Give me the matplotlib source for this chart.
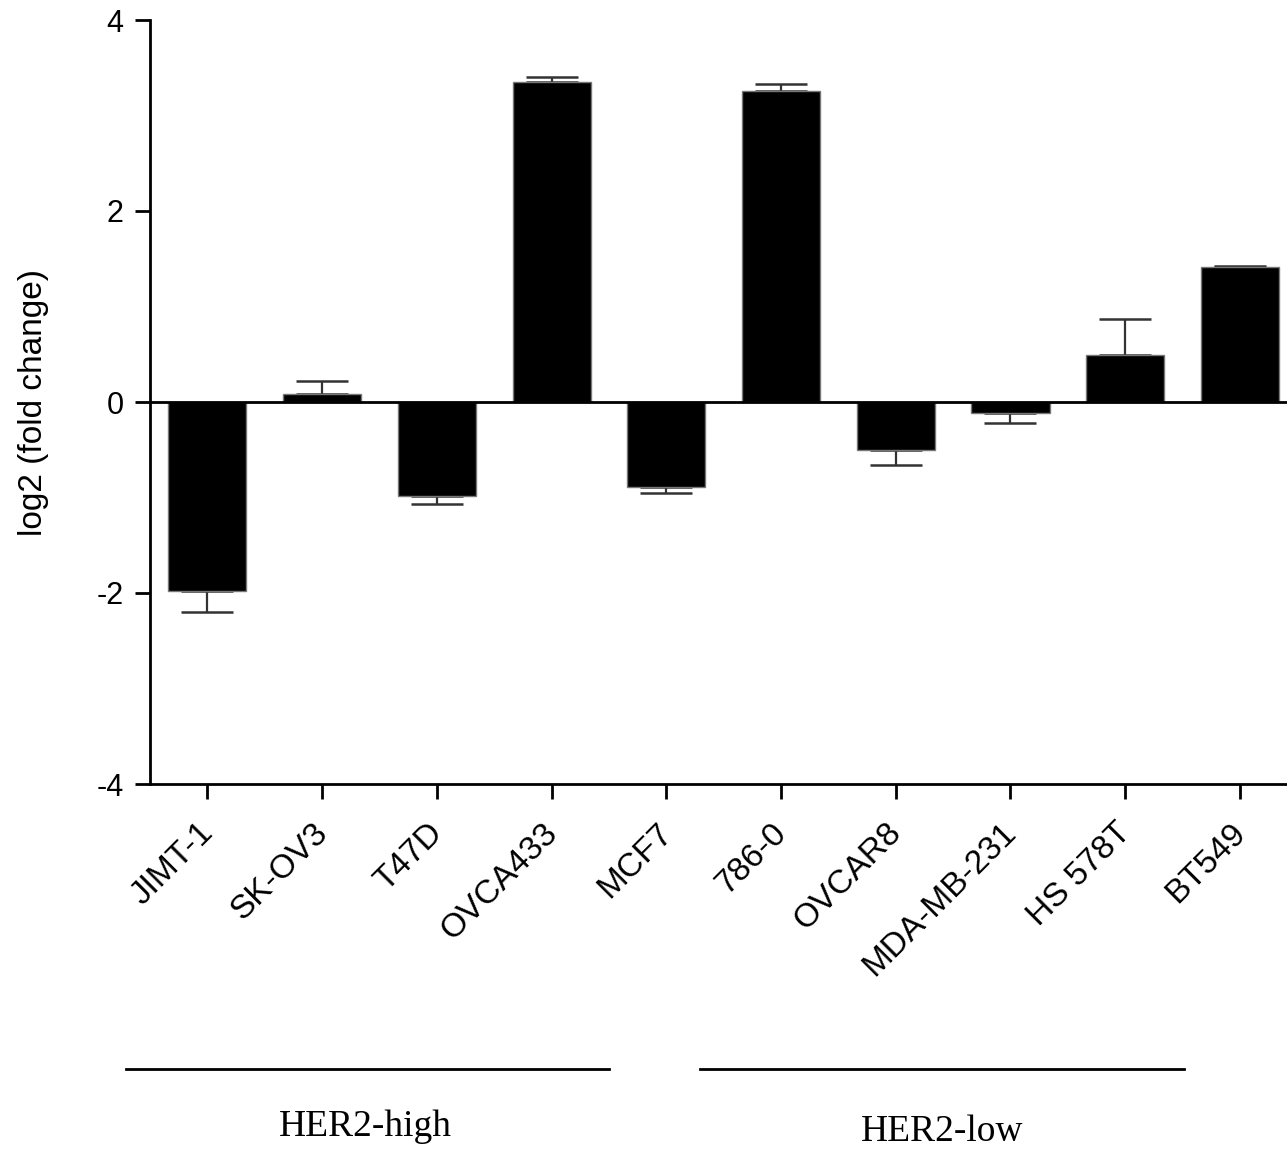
import matplotlib
matplotlib.use("Agg")
import matplotlib.pyplot as plt
import matplotlib.transforms as mtransforms
import numpy as np

cell_lines = ["JIMT-1", "SK-OV3", "T47D", "OVCA433", "MCF7",
              "786-0", "OVCAR8", "MDA-MB-231", "HS 578T", "BT549"]
log2_fc = [-1.975, 0.08, -0.98, 3.35, -0.89, 3.26, -0.50, -0.12, 0.49, 1.41]
err = [0.225, 0.14, 0.09, 0.05, 0.06, 0.07, 0.16, 0.10, 0.38, 0.01]
groups = ["HER2-high", "HER2-low"]

plt.rcParams['font.family'] = ['Liberation Sans', 'DejaVu Sans']

fig = plt.figure(figsize=(12.87, 11.5), dpi=100)
ax = fig.add_axes([150/1287, 1 - 784/1150, 1 - 150/1287, (784 - 20)/1150])

x = np.arange(len(cell_lines))
ax.bar(x, log2_fc, width=0.68, color='black', edgecolor='#777777', linewidth=1.0, zorder=3)

lower = [e if v < 0 else 0 for v, e in zip(log2_fc, err)]
upper = [e if v >= 0 else 0 for v, e in zip(log2_fc, err)]
ax.errorbar(x, log2_fc, yerr=[lower, upper], fmt='none', ecolor='#333333',
            elinewidth=1.6, capsize=19, capthick=1.8, zorder=2)

ax.axhline(0, color='black', linewidth=2, zorder=4)

ax.set_xlim(-0.5, 9.41)
ax.set_ylim(-4, 4)
ax.set_yticks([-4, -2, 0, 2, 4])
ax.set_yticklabels(["-4", "-2", "0", "2", "4"], fontsize=22)
ax.set_xticks(x)
ax.set_xticklabels(cell_lines, rotation=45, ha='right', rotation_mode='anchor', fontsize=24)
ax.tick_params(axis='both', direction='out', length=11, width=2)
ax.tick_params(axis='x', pad=13)
ax.tick_params(axis='y', pad=8)

offset = mtransforms.ScaledTranslation(-10/100, 0, fig.dpi_scale_trans)
for lbl in ax.get_xticklabels():
    lbl.set_transform(lbl.get_transform() + offset)

for s in ['top', 'right']:
    ax.spines[s].set_visible(False)
for s in ['left', 'bottom']:
    ax.spines[s].set_linewidth(2)

ax.set_ylabel("log2 (fold change)", fontsize=24, labelpad=34)

# group lines and labels
line_y = 1 - 1069/1150
fig.add_artist(plt.Line2D([126/1287, 609/1287], [line_y, line_y], color='black', linewidth=2))
fig.add_artist(plt.Line2D([700/1287, 1184/1287], [line_y, line_y], color='black', linewidth=2))
fig.text(365/1287, 1 - 1127/1150, groups[0], ha='center', va='center',
         fontsize=27, family=['Liberation Serif', 'DejaVu Serif'])
fig.text(942/1287, 1 - 1132/1150, groups[1], ha='center', va='center',
         fontsize=27, family=['Liberation Serif', 'DejaVu Serif'])

fig.savefig("out.png", dpi=100)
